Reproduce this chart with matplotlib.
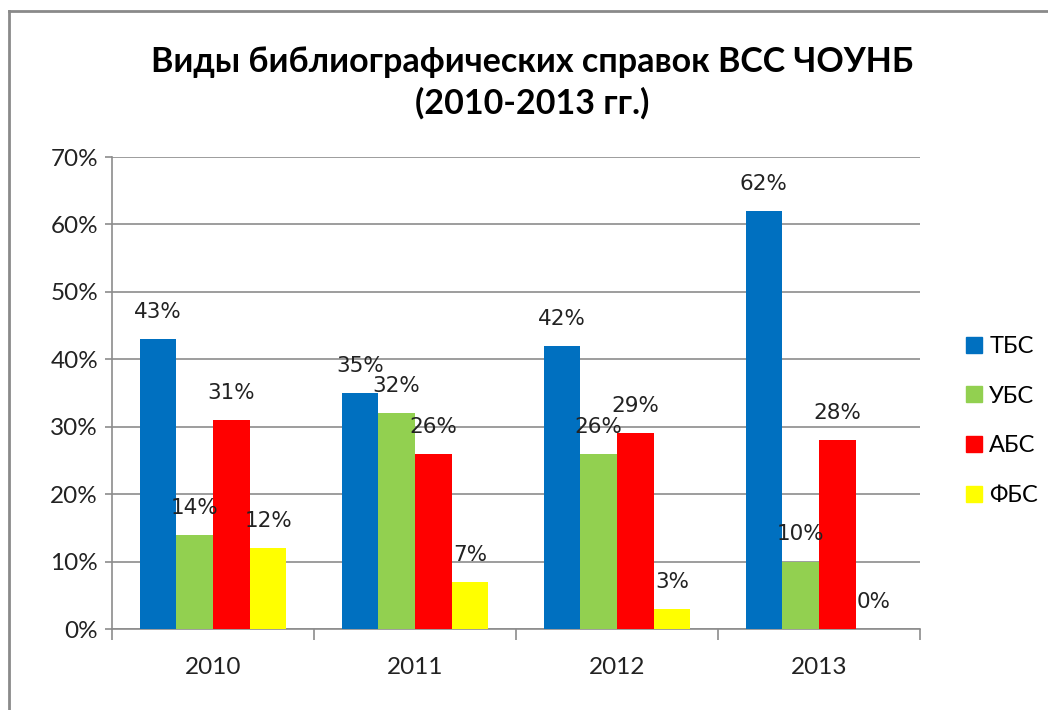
import matplotlib
matplotlib.use("Agg")
import matplotlib.pyplot as plt
from matplotlib.lines import Line2D
import numpy as np

years = ["2010", "2011", "2012", "2013"]
series_names = ["ТБС", "УБС", "АБС", "ФБС"]
tbs = [43, 35, 42, 62]
ubs = [14, 32, 26, 10]
abs_ = [31, 26, 29, 28]
fbs = [12, 7, 3, 0]
values = [tbs, ubs, abs_, fbs]
colors = ["#0070C0", "#92D050", "#FF0000", "#FFFF00"]
yticks = [0, 10, 20, 30, 40, 50, 60, 70]

W, H = 1048, 710
fig = plt.figure(figsize=(W / 100, H / 100), dpi=100)
ax = fig.add_axes([112 / W, 1 - 629 / H, (920 - 112) / W, (629 - 157) / H])

tick_font = ["Lato", "DejaVu Sans"]
x = np.arange(len(years))
w = 1 / 5.5
for i, (vals, c, name) in enumerate(zip(values, colors, series_names)):
    pos = x + (i - 1.5) * w
    ax.bar(pos, vals, width=w, color=c, label=name, zorder=3)
    for px, v in zip(pos, vals):
        ax.annotate(f"{v}%", (px, v), xytext=(0, 19.5), textcoords="offset points",
                    ha="center", va="center", fontsize=15.5, color="#222222",
                    family="DejaVu Sans", zorder=5)

ax.set_xlim(-0.5, 3.5)
ax.set_ylim(0, 70)
ax.set_yticks(yticks)
ax.set_yticklabels([f"{t}%" for t in yticks], family=tick_font, fontsize=17.5, color="#222222")
ax.yaxis.grid(True, color="#8c8c8c", linewidth=1.2, zorder=0)
ax.set_xticks(x)
ax.set_xticklabels(years, family=tick_font, fontsize=17.5, color="#222222")
ax.set_xticks(np.arange(-0.5, 4, 1), minor=True)
ax.tick_params(axis="x", which="major", length=0, pad=20)
ax.tick_params(axis="x", which="minor", length=8, width=1.2, color="#8c8c8c", direction="out")
ax.tick_params(axis="y", length=5, width=1.2, color="#8c8c8c", pad=5)
for s in ["top", "right"]:
    ax.spines[s].set_visible(False)
for s in ["left", "bottom"]:
    ax.spines[s].set_color("#8c8c8c")
    ax.spines[s].set_linewidth(1.2)

handles = [Line2D([0], [0], marker="s", linestyle="none", markersize=11,
                  markerfacecolor=c, markeredgecolor=c) for c in colors]
leg = fig.legend(handles, series_names, loc="center left",
                 bbox_to_anchor=(941 / W, 1 - 421 / H), frameon=False,
                 prop={"family": tick_font, "size": 17}, labelspacing=1.22,
                 handletextpad=0.15, handlelength=1.0)

fig.text(532 / W, 1 - 62 / H, "Виды библиографических справок ВСС ЧОУНБ",
         ha="center", va="center", fontsize=24.5, fontweight="bold", family=tick_font)
fig.text(532 / W, 1 - 103 / H, "(2010-2013 гг.)",
         ha="center", va="center", fontsize=24.5, fontweight="bold", family=tick_font)

# outer chart border
fig.add_artist(Line2D([9 / W, 9 / W], [0, 1 - 11 / H], color="#8a8a8a", linewidth=2,
                      transform=fig.transFigure))
fig.add_artist(Line2D([9 / W, 1], [1 - 11 / H, 1 - 11 / H], color="#8a8a8a", linewidth=2,
                      transform=fig.transFigure))

fig.savefig("out.png", dpi=100)
